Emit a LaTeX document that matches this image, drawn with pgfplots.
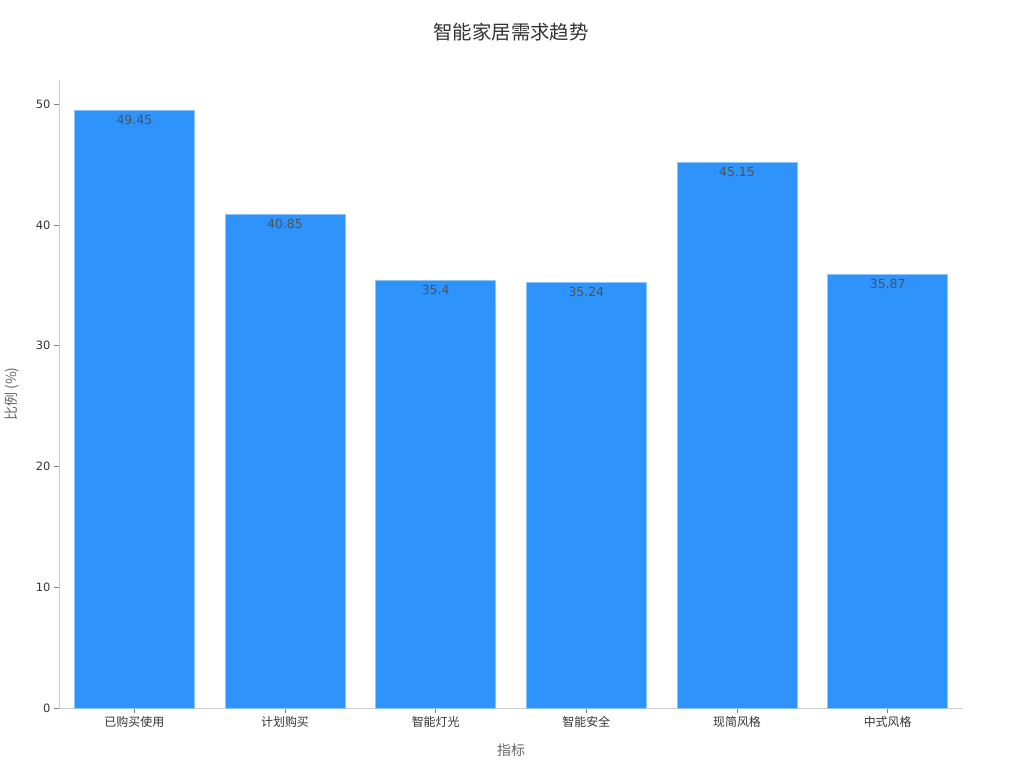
\documentclass[border=0pt]{standalone}
\usepackage{pgfplots}
\pgfplotsset{compat=1.18}
\usepackage{fontspec}
\setmainfont{DejaVu Sans}
\newfontfamily\cjk{Noto Sans CJK SC}
\definecolor{barblue}{HTML}{2E93FA}
\definecolor{baredge}{HTML}{8EC5FC}
\definecolor{txt}{HTML}{333333}
\definecolor{axisgray}{HTML}{CCCCCC}
\begin{document}
\begin{tikzpicture}
\begin{axis}[
    name=ax,
    scale only axis,
    width=904bp, height=628bp,
    xmin=-0.5, xmax=5.5,
    ymin=0, ymax=52,
    ytick={0,10,20,30,40,50},
    xtick={0,1,2,3,4,5},
    xticklabels={已购买使用,计划购买,智能灯光,智能安全,现简风格,中式风格},
    axis x line*=bottom, axis y line*=left,
    axis line style={draw=axisgray, line width=0.8bp},
    tick align=outside,
    major tick length=5bp,
    tick style={draw=gray, line width=0.8bp},
    /pgf/number format/assume math mode=true,
    xticklabel style={font=\cjk\fontsize{12}{12}\selectfont, text=txt},
    yticklabel style={font=\fontsize{11.5}{12}\selectfont, text=txt},
    title={智能家居需求趋势},
    title style={font=\cjk\fontsize{19.5}{20}\selectfont, text=txt,
        at={(axis description cs:0.5,1)}, anchor=center, yshift=42bp},
    xlabel={指标},
    xlabel style={font=\cjk\fontsize{14}{14}\selectfont, text=gray!80!black,
        at={(axis description cs:0.5,0)}, anchor=center, yshift=-42bp},
    ylabel={比例 (\%)},
    ylabel style={font=\cjk\fontsize{14}{14}\selectfont, text=gray!80!black,
        at={(axis description cs:0,0.5)}, anchor=center, yshift=47bp},
    ybar, bar width=120bp, bar shift=0pt,
    nodes near coords={\pgfmathprintnumber[fixed,precision=2]{\pgfplotspointmeta}},
    every node near coord/.append style={anchor=north, inner sep=2bp, yshift=-2.5bp,
        font=\fontsize{12.5}{13}\selectfont, text=txt!85!white},
]
\addplot[fill=barblue, draw=baredge, line width=0.8bp] coordinates {
    (0,49.45) (1,40.85) (2,35.4) (3,35.24) (4,45.15) (5,35.87)
};
\end{axis}
\path ([xshift=-59bp,yshift=-60bp]ax.south west) rectangle ([xshift=61bp,yshift=80bp]ax.north east);
\end{tikzpicture}
\end{document}
